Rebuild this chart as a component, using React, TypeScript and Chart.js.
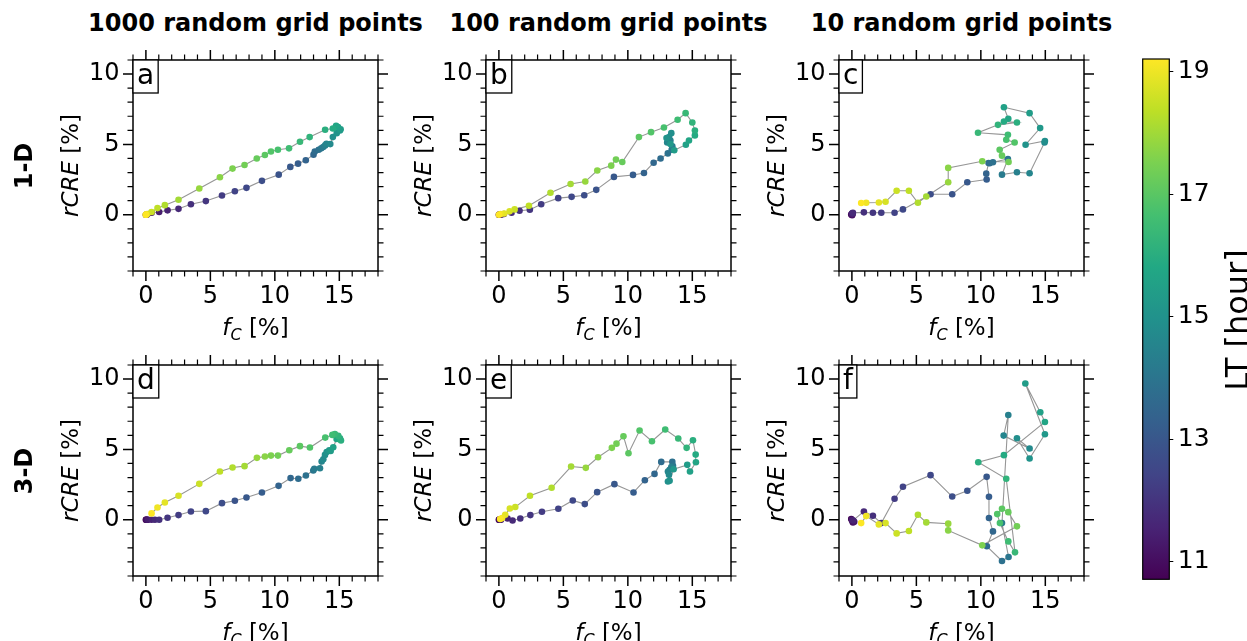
import React, { useEffect, useRef } from "react";
import { Chart, registerables } from "chart.js";
Chart.register(...registerables);

// ---------------- data ----------------
const LT = [
  10.71, 10.88, 11.04, 11.21, 11.38, 11.54, 11.71, 11.88, 12.04, 12.21,
  12.38, 12.54, 12.71, 12.88, 13.04, 13.21, 13.38, 13.54, 13.71, 13.88,
  14.04, 14.21, 14.38, 14.54, 14.71, 14.88, 15.04, 15.21, 15.38, 15.54,
  15.71, 15.88, 16.04, 16.21, 16.38, 16.54, 16.71, 16.88, 17.04, 17.21,
  17.38, 17.54, 17.71, 17.88, 18.04, 18.21, 18.38, 18.54, 18.71, 18.88,
  19.04, 19.21,
];

const A_FC = [0, 0.02, 0.1, 0.44, 1.03, 1.68, 2.53, 3.49, 4.65, 5.9, 6.9, 7.8, 9.0, 10.3, 11.2, 11.8, 12.4, 13.0, 13.1, 13.4, 13.6, 13.75, 13.9, 14.0, 14.3, 14.5, 14.8, 15.05, 15.1, 14.9, 14.75, 14.5, 13.9, 12.7, 11.95, 11.1, 10.24, 9.7, 9.23, 8.6, 7.65, 6.72, 5.74, 4.14, 2.53, 1.47, 0.9, 0.44, 0.1, 0, 0.02, 0];
const A_RCRE = [0, 0, 0.02, 0.14, 0.19, 0.31, 0.42, 0.75, 0.97, 1.37, 1.67, 1.91, 2.41, 2.85, 3.4, 3.63, 3.87, 4.27, 4.5, 4.62, 4.72, 4.81, 4.93, 5.05, 5.02, 5.52, 5.8, 5.99, 6.08, 6.23, 6.32, 6.13, 6.04, 5.52, 5.19, 4.72, 4.62, 4.5, 4.25, 4.0, 3.54, 3.28, 2.67, 1.86, 1.06, 0.68, 0.47, 0.19, 0.05, 0, 0.01, 0];

const B_FC = [0, 0.02, 0.06, 0.12, 0.2, 0.39, 0.98, 1.6, 2.4, 3.28, 4.6, 5.64, 6.62, 7.55, 8.92, 10.4, 11.25, 12.0, 12.54, 13.1, 13.4, 13.45, 13.3, 13.05, 13.2, 13.37, 13.0, 13.3, 13.6, 14.5, 14.74, 15.2, 15.2, 15.0, 14.48, 13.86, 12.8, 11.8, 10.86, 9.57, 9.08, 8.71, 7.63, 6.7, 5.56, 4.0, 2.33, 1.22, 0.83, 0.41, 0.13, 0];
const B_RCRE = [0, 0, 0.01, 0, 0.02, 0.05, 0.14, 0.28, 0.35, 0.75, 1.18, 1.27, 1.39, 1.77, 2.69, 2.83, 2.97, 3.7, 4.0, 4.36, 4.62, 4.86, 5.28, 5.14, 5.52, 5.8, 5.45, 5.02, 4.58, 4.98, 5.28, 5.64, 5.99, 6.56, 7.22, 6.75, 6.2, 5.87, 5.52, 3.75, 3.92, 3.49, 3.14, 2.36, 2.19, 1.56, 0.64, 0.38, 0.24, 0.09, 0.05, 0];

const C_FC = [0, -0.05, 0.02, 0.05, 0.0, 0.03, 0.08, 0.93, 1.63, 2.28, 3.31, 3.96, 6.1, 7.78, 8.95, 10.45, 10.42, 10.6, 10.68, 10.94, 12.1, 11.64, 12.8, 13.78, 14.94, 14.97, 13.47, 14.6, 13.78, 11.79, 12.13, 11.79, 12.8, 11.33, 9.78, 12.1, 11.97, 12.62, 11.46, 11.64, 12.15, 10.11, 7.47, 7.47, 5.77, 5.12, 4.42, 3.47, 2.61, 2.09, 1.11, 0.72];
const C_RCRE = [0, 0.02, -0.03, 0.05, 0.06, 0.1, 0.14, 0.17, 0.14, 0.14, 0.14, 0.38, 1.46, 1.46, 2.31, 2.5, 2.92, 3.68, 3.66, 3.73, 3.96, 2.85, 3.02, 2.95, 5.14, 5.24, 4.98, 6.16, 7.22, 7.64, 6.82, 6.63, 6.56, 6.39, 5.83, 5.68, 5.33, 5.14, 4.62, 4.2, 3.75, 3.8, 3.33, 2.31, 1.3, 0.85, 1.7, 1.7, 0.92, 0.87, 0.85, 0.83];

const D_FC = [0, 0.02, 0.05, 0.1, 0.18, 0.44, 0.7, 1.03, 1.68, 2.53, 3.49, 4.65, 5.9, 6.9, 7.8, 9.0, 10.29, 11.22, 11.82, 12.41, 12.98, 13.06, 13.5, 13.63, 13.76, 13.89, 14.02, 14.22, 14.33, 14.53, 14.79, 15.05, 15.13, 14.92, 14.66, 14.46, 13.91, 12.72, 11.95, 11.12, 10.24, 9.7, 9.23, 8.61, 7.65, 6.72, 5.74, 4.14, 2.53, 1.47, 0.9, 0.44];
const D_RCRE = [0, 0, 0, 0, 0, 0, 0, 0, 0.14, 0.33, 0.59, 0.61, 1.18, 1.35, 1.58, 1.94, 2.41, 2.96, 2.91, 3.14, 3.5, 3.62, 3.66, 4.14, 4.3, 4.61, 4.82, 4.94, 4.89, 5.15, 5.74, 5.79, 5.63, 5.96, 6.1, 6.03, 5.84, 5.13, 5.23, 4.94, 4.56, 4.56, 4.49, 4.4, 3.81, 3.71, 3.43, 2.55, 1.7, 1.23, 0.87, 0.45];

const E_FC = [0, 0.02, 0.05, 0.1, 0.16, 0.67, 1.06, 1.66, 2.44, 3.34, 4.61, 5.73, 6.66, 7.62, 8.96, 10.44, 11.32, 12.07, 12.59, 13.45, 13.5, 13.24, 13.37, 13.11, 13.19, 13.11, 13.24, 13.55, 14.61, 14.82, 15.28, 15.26, 15.05, 14.56, 13.91, 12.9, 11.87, 10.91, 10.05, 9.66, 9.12, 8.76, 7.69, 6.74, 5.6, 4.09, 2.41, 1.27, 0.85, 0.49, 0.25, 0.1];
const E_RCRE = [0, 0, 0.01, 0, 0, 0.09, -0.05, 0.09, 0.33, 0.57, 0.78, 1.37, 1.11, 1.96, 2.53, 1.94, 2.81, 3.26, 4.11, 4.11, 3.83, 3.55, 3.74, 3.43, 3.19, 2.72, 2.77, 3.59, 3.9, 3.43, 4.09, 4.63, 5.65, 5.11, 5.77, 6.41, 5.58, 6.34, 4.73, 5.93, 5.41, 5.11, 4.44, 3.69, 3.78, 2.27, 1.7, 0.9, 0.8, 0.35, 0.12, 0.05];

const F_FC = [-0.05, 0.03, 0.08, 0.18, 0, 0.1, 0.93, 1.63, 2.28, 3.31, 3.96, 6.1, 7.78, 8.95, 10.45, 10.63, 10.63, 10.94, 10.47, 11.64, 12.15, 11.64, 12.13, 11.77, 13.78, 12.8, 13.78, 14.97, 13.45, 14.61, 14.97, 11.79, 9.8, 11.97, 12.65, 12.13, 11.48, 11.27, 11.64, 12.13, 12.8, 10.11, 7.47, 7.47, 5.77, 5.12, 4.42, 3.47, 2.61, 2.09, 1.11, 0.72];
const F_RCRE = [0.05, -0.09, -0.19, -0.14, 0, -0.05, 0.59, 0.28, -0.24, 1.49, 2.34, 3.17, 1.65, 2.06, 3.05, 1.63, 0.12, -0.83, -1.89, -2.93, -2.65, -0.24, 7.45, 5.98, 5.06, 5.79, 4.35, 6.08, 9.69, 7.64, 6.95, 4.59, 4.09, 2.91, -2.32, -1.54, -0.24, 0.4, 0.78, 0.54, -0.47, -1.82, -0.76, -0.28, -0.19, 0.35, -0.8, -0.97, -0.24, -0.33, 0.26, -0.24];

const X_TICKS = [0, 5, 10, 15];
const Y_TICKS = [0, 5, 10];
const CB_TICKS = [11, 13, 15, 17, 19];
const COL_TITLES = ["1000 random grid points", "100 random grid points", "10 random grid points"];
const ROW_LABELS = ["1-D", "3-D"];
const LETTERS = ["a", "b", "c", "d", "e", "f"];
const Y_TITLE_IT = "rCRE";
const X_TITLE_IT = "f";
const X_TITLE_SUB = "C";
const UNIT = " [%]";
const CB_TITLE = "LT [hour]";

// ---------------- style / layout ----------------
const FONT = '"DejaVu Sans"';
const VIRIDIS = ["#440154", "#482475", "#414487", "#355f8d", "#2a788e", "#21918c", "#22a884", "#44bf70", "#7ad151", "#bddf26", "#fde725"];
const LT_MIN = Math.min(...LT);
const LT_MAX = Math.max(...LT);

function hex(h: string) {
  return [parseInt(h.slice(1, 3), 16), parseInt(h.slice(3, 5), 16), parseInt(h.slice(5, 7), 16)];
}
function viridis(t: number) {
  const tt = Math.max(0, Math.min(1, t)) * 10;
  const i = Math.min(9, Math.floor(tt));
  const f = tt - i;
  const a = hex(VIRIDIS[i]);
  const b = hex(VIRIDIS[i + 1]);
  const c = a.map((v, k) => Math.round(v + (b[k] - v) * f));
  return `rgb(${c[0]},${c[1]},${c[2]})`;
}

const PW = 245;
const PH = 211;
const COL_LEFT = [133, 486, 839];
const ROW_TOP = [60, 365];
const PL = 100, PR = 20, PT = 20, PB = 80;
const TICK_FONT = 24;

const X_MIN = -1, X_MAX = 18, Y_MIN = -4, Y_MAX = 11;

function decorPlugin(letter: string) {
  return {
    id: "decor",
    afterDraw(chart: any) {
      const { ctx, chartArea: a, scales } = chart;
      const xs = scales.x, ys = scales.y;
      ctx.save();
      ctx.strokeStyle = "#000";
      for (let v = X_MIN; v <= X_MAX; v++) {
        const major = v % 5 === 0;
        const len = major ? 10 : 5.5;
        ctx.lineWidth = major ? 1.5 : 1.2;
        const p = xs.getPixelForValue(v);
        ctx.beginPath();
        ctx.moveTo(p, a.bottom); ctx.lineTo(p, a.bottom + len);
        ctx.moveTo(p, a.top); ctx.lineTo(p, a.top - len);
        ctx.stroke();
      }
      for (let v = Y_MIN; v <= Y_MAX; v++) {
        const major = v % 5 === 0;
        const len = major ? 10 : 5.5;
        ctx.lineWidth = major ? 1.5 : 1.2;
        const p = ys.getPixelForValue(v);
        ctx.beginPath();
        ctx.moveTo(a.left, p); ctx.lineTo(a.left - len, p);
        ctx.moveTo(a.right, p); ctx.lineTo(a.right + len, p);
        ctx.stroke();
      }
      ctx.lineWidth = 1.5;
      ctx.strokeRect(a.left, a.top, a.right - a.left, a.bottom - a.top);

      // letter box
      ctx.font = `28px ${FONT}`;
      const tw = ctx.measureText(letter).width;
      const bw = tw + 8, bh = 33;
      ctx.fillStyle = "#fff";
      ctx.fillRect(a.left, a.top, bw, bh);
      ctx.lineWidth = 1.3;
      ctx.strokeRect(a.left, a.top, bw, bh);
      ctx.fillStyle = "#000";
      ctx.textAlign = "center";
      ctx.textBaseline = "alphabetic";
      ctx.fillText(letter, a.left + bw / 2, a.top + 23.5);

      // y title
      const fIt = `italic 23px ${FONT}`;
      const fN = `23px ${FONT}`;
      ctx.textAlign = "left";
      ctx.save();
      ctx.translate(a.left - 55.5, (a.top + a.bottom) / 2);
      ctx.rotate(-Math.PI / 2);
      ctx.font = fIt; const w1 = ctx.measureText(Y_TITLE_IT).width;
      ctx.font = fN; const w2 = ctx.measureText(UNIT).width;
      const x0 = -(w1 + w2) / 2;
      ctx.font = fIt; ctx.fillText(Y_TITLE_IT, x0, 0);
      ctx.font = fN; ctx.fillText(UNIT, x0 + w1, 0);
      ctx.restore();

      // x title
      const fSub = `italic 16px ${FONT}`;
      ctx.font = fIt; const u1 = ctx.measureText(X_TITLE_IT).width;
      ctx.font = fSub; const u2 = ctx.measureText(X_TITLE_SUB).width;
      ctx.font = fN; const u3 = ctx.measureText(UNIT).width;
      const tot = u1 + u2 + u3;
      const bx = (a.left + a.right) / 2 - tot / 2;
      const by = a.bottom + 63.5;
      ctx.font = fIt; ctx.fillText(X_TITLE_IT, bx, by);
      ctx.font = fSub; ctx.fillText(X_TITLE_SUB, bx + u1, by + 5);
      ctx.font = fN; ctx.fillText(UNIT, bx + u1 + u2, by);
      ctx.restore();
    },
  };
}

function Panel({ col, row, fc, rcre, letter }: any) {
  const ref = useRef<HTMLCanvasElement>(null);
  const W = PL + PW + PR;
  const H = PT + PH + PB;
  useEffect(() => {
    const colors = LT.map((v) => viridis((v - LT_MIN) / (LT_MAX - LT_MIN)));
    const chart = new Chart(ref.current as HTMLCanvasElement, {
      type: "scatter",
      data: {
        datasets: [
          {
            data: fc.map((x: number, i: number) => ({ x, y: rcre[i] })),
            showLine: true,
            borderColor: "#969696",
            borderWidth: 1.1,
            pointBackgroundColor: colors,
            pointBorderColor: colors,
            pointBorderWidth: 0,
            pointRadius: 3.3,
            pointHoverRadius: 3.3,
          },
        ],
      },
      options: {
        responsive: false,
        animation: false,
        events: [],
        layout: { padding: { left: 0, top: PT, right: PR, bottom: 0 } },
        plugins: { legend: { display: false }, tooltip: { enabled: false } },
        scales: {
          x: {
            type: "linear",
            min: X_MIN,
            max: X_MAX,
            grid: { display: false, drawTicks: false },
            border: { display: false },
            ticks: { font: { family: "DejaVu Sans", size: TICK_FONT }, color: "#000", padding: 11.6, maxRotation: 0, autoSkip: false },
            afterBuildTicks: (s: any) => { s.ticks = X_TICKS.map((v) => ({ value: v })); },
            afterFit: (s: any) => { s.height = PB; s.paddingLeft = 0; s.paddingRight = 0; s.paddingTop = 0; s.paddingBottom = 0; },
          },
          y: {
            type: "linear",
            min: Y_MIN,
            max: Y_MAX,
            grid: { display: false, drawTicks: false },
            border: { display: false },
            ticks: { font: { family: "DejaVu Sans", size: TICK_FONT }, color: "#000", padding: 13.4, autoSkip: false },
            afterBuildTicks: (s: any) => { s.ticks = Y_TICKS.map((v) => ({ value: v })); },
            afterFit: (s: any) => { s.width = PL; s.paddingLeft = 0; s.paddingRight = 0; s.paddingTop = 0; s.paddingBottom = 0; },
          },
        },
      } as any,
      plugins: [decorPlugin(letter)],
    });
    return () => chart.destroy();
  }, []);
  return (
    <canvas
      ref={ref}
      width={W}
      height={H}
      style={{ position: "absolute", left: COL_LEFT[col] - PL, top: ROW_TOP[row] - PT, width: W, height: H }}
    />
  );
}

const CB_LEFT = 1130, CB_TOP = 40, CB_W = 117, CB_H = 601;

function cbPlugin() {
  return {
    id: "cbdecor",
    afterDraw(chart: any) {
      const { ctx, chartArea: a } = chart;
      ctx.save();
      ctx.strokeStyle = "#000";
      ctx.lineWidth = 1.2;
      ctx.strokeRect(a.left, a.top, a.right - a.left, a.bottom - a.top);
      ctx.fillStyle = "#000";
      ctx.font = `32px ${FONT}`;
      ctx.textAlign = "center";
      ctx.textBaseline = "alphabetic";
      ctx.translate(117.5, 280);
      ctx.rotate(-Math.PI / 2);
      ctx.fillText(CB_TITLE, 0, 0);
      ctx.restore();
    },
  };
}

function ColorBar() {
  const ref = useRef<HTMLCanvasElement>(null);
  useEffect(() => {
    const chart = new Chart(ref.current as HTMLCanvasElement, {
      type: "bar",
      data: {
        labels: [CB_TITLE],
        datasets: [
          {
            data: [[LT_MIN, LT_MAX]],
            backgroundColor: (c: any) => {
              const ch = c.chart;
              if (!ch.chartArea) return "#21918c";
              const y = ch.scales.y;
              const g = ch.ctx.createLinearGradient(0, y.getPixelForValue(LT_MIN), 0, y.getPixelForValue(LT_MAX));
              VIRIDIS.forEach((col, i) => g.addColorStop(i / (VIRIDIS.length - 1), col));
              return g;
            },
            barPercentage: 1,
            categoryPercentage: 1,
            borderWidth: 0,
          },
        ],
      },
      options: {
        responsive: false,
        animation: false,
        events: [],
        layout: { padding: { left: 12.7, top: 19, right: 0, bottom: 61.7 } },
        plugins: { legend: { display: false }, tooltip: { enabled: false } },
        scales: {
          x: { display: false },
          y: {
            position: "right",
            type: "linear",
            min: LT_MIN,
            max: LT_MAX,
            grid: { display: true, drawOnChartArea: false, drawTicks: true, tickLength: 4, tickColor: "#000", tickWidth: 1 },
            border: { display: false },
            ticks: { font: { family: "DejaVu Sans", size: 25 }, color: "#000", padding: 4.5, autoSkip: false },
            afterBuildTicks: (s: any) => { s.ticks = CB_TICKS.map((v) => ({ value: v })); },
            afterFit: (s: any) => { s.width = CB_W - 12.7 - 26.6; s.paddingTop = 0; s.paddingBottom = 0; },
          },
        },
      } as any,
      plugins: [cbPlugin()],
    });
    return () => chart.destroy();
  }, []);
  return (
    <canvas
      ref={ref}
      width={CB_W}
      height={CB_H}
      style={{ position: "absolute", left: CB_LEFT, top: CB_TOP, width: CB_W, height: CB_H }}
    />
  );
}

const PANELS = [
  { col: 0, row: 0, fc: A_FC, rcre: A_RCRE },
  { col: 1, row: 0, fc: B_FC, rcre: B_RCRE },
  { col: 2, row: 0, fc: C_FC, rcre: C_RCRE },
  { col: 0, row: 1, fc: D_FC, rcre: D_RCRE },
  { col: 1, row: 1, fc: E_FC, rcre: E_RCRE },
  { col: 2, row: 1, fc: F_FC, rcre: F_RCRE },
];

export default function App() {
  return (
    <div style={{ position: "absolute", left: 0, top: 0, width: 1247, height: 641, overflow: "hidden", background: "#fff" }}>
      {PANELS.map((p, i) => (
        <Panel key={i} {...p} letter={LETTERS[i]} />
      ))}
      <ColorBar />
      {COL_TITLES.map((t, i) => (
        <div
          key={t}
          style={{
            position: "absolute",
            left: COL_LEFT[i] + PW / 2 - 250,
            width: 500,
            top: 11.2,
            textAlign: "center",
            fontFamily: FONT,
            fontWeight: "bold",
            fontSize: 24,
            lineHeight: "24px",
            whiteSpace: "nowrap",
          }}
        >
          {t}
        </div>
      ))}
      {ROW_LABELS.map((t, i) => (
        <div
          key={t}
          style={{
            position: "absolute",
            left: 23.5 - 50,
            width: 100,
            top: ROW_TOP[i] + PH / 2 - 12,
            height: 24,
            lineHeight: "24px",
            textAlign: "center",
            fontFamily: FONT,
            fontWeight: "bold",
            fontSize: 24,
            whiteSpace: "nowrap",
            transform: "rotate(-90deg)",
          }}
        >
          {t}
        </div>
      ))}
    </div>
  );
}
